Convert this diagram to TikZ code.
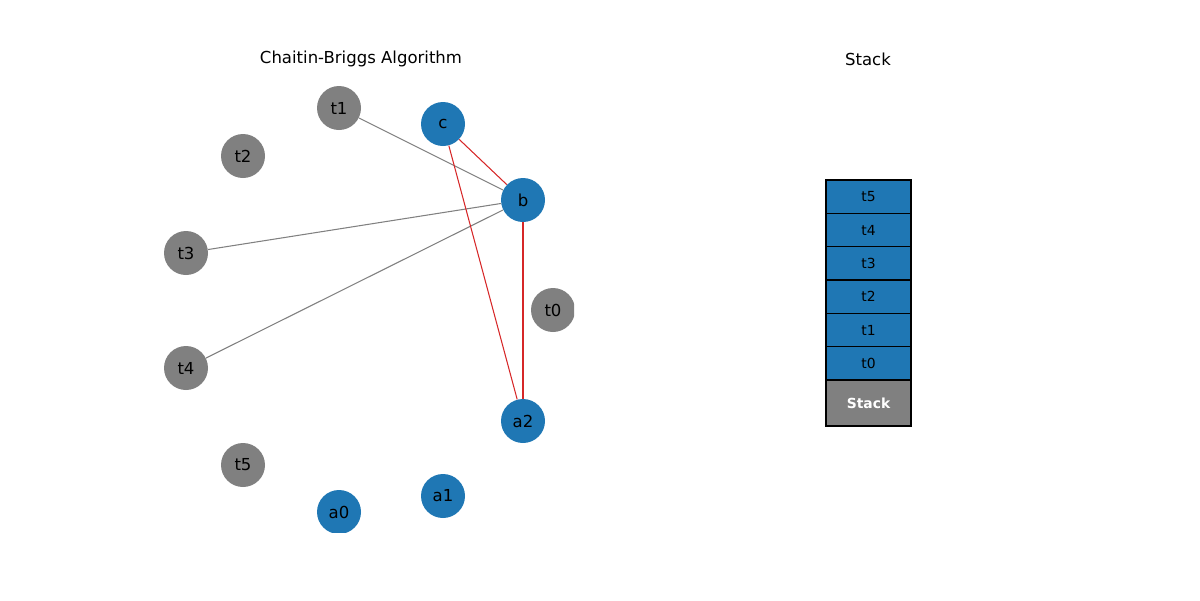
\documentclass[tikz,border=0pt]{standalone}
\usepackage{fontspec}
\setmainfont{DejaVu Sans}
\definecolor{mblue}{HTML}{1F77B4}
\definecolor{mgray}{HTML}{808080}
\definecolor{mred}{HTML}{D62728}
\newlength{\unitpx}\setlength{\unitpx}{0.02cm}
\tikzset{
  vert/.style={circle,minimum size=44\unitpx,inner sep=0pt,font=\fontsize{9.4}{11}\selectfont},
  bluev/.style={vert,fill=mblue},
  grayv/.style={vert,fill=mgray},
  gedge/.style={mgray,line width=0.6pt},
  redge/.style={mred,line width=0.6pt},
  cell/.style={draw=black,line width=0.7pt,fill=mblue,inner sep=0pt,font=\fontsize{7.9}{9}\selectfont},
  basecell/.style={draw=black,line width=0.7pt,fill=mgray,inner sep=0pt,font=\fontsize{7.9}{9}\selectfont\bfseries,text=white},
  ttl/.style={font=\fontsize{9.4}{11}\selectfont}
}
\begin{document}
\begin{tikzpicture}[x=0.02cm,y=-0.02cm]
\useasboundingbox (0,0) rectangle (1200,600);
\node[ttl] (title1) at (361,59) {Chaitin-Briggs Algorithm};
\node[ttl] (title2) at (868,59) {Stack};
\begin{scope}
\clip (140,70) rectangle (574,532);
\node[grayv] (t1) at (339,108) {t1};
\node[bluev] (c) at (443,124) {c};
\node[grayv] (t2) at (243,156) {t2};
\node[bluev] (b) at (523,200) {b};
\node[grayv] (t3) at (186,253) {t3};
\node[grayv] (t0) at (553,310) {t0};
\node[grayv] (t4) at (186,368) {t4};
\node[bluev] (a2) at (523,421) {a2};
\node[grayv] (t5) at (243,465) {t5};
\node[bluev] (a1) at (443,496) {a1};
\node[bluev] (a0) at (339,512) {a0};
\draw[gedge] (t1) -- (b);
\draw[gedge] (t3) -- (b);
\draw[gedge] (t4) -- (b);
\draw[redge] (c) -- (b);
\draw[redge] (c) -- (a2);
\draw[redge] (b) -- (a2);
\end{scope}
\draw[basecell] (826,380) rectangle node (sbase) {Stack} (911,426);
\draw[cell] (826,346.7) rectangle node (s0) {t0} (911,380);
\draw[cell] (826,313.3) rectangle node (s1) {t1} (911,346.7);
\draw[cell] (826,280) rectangle node (s2) {t2} (911,313.3);
\draw[cell] (826,246.7) rectangle node (s3) {t3} (911,280);
\draw[cell] (826,213.3) rectangle node (s4) {t4} (911,246.7);
\draw[cell] (826,180) rectangle node (s5) {t5} (911,213.3);
\end{tikzpicture}
\end{document}
